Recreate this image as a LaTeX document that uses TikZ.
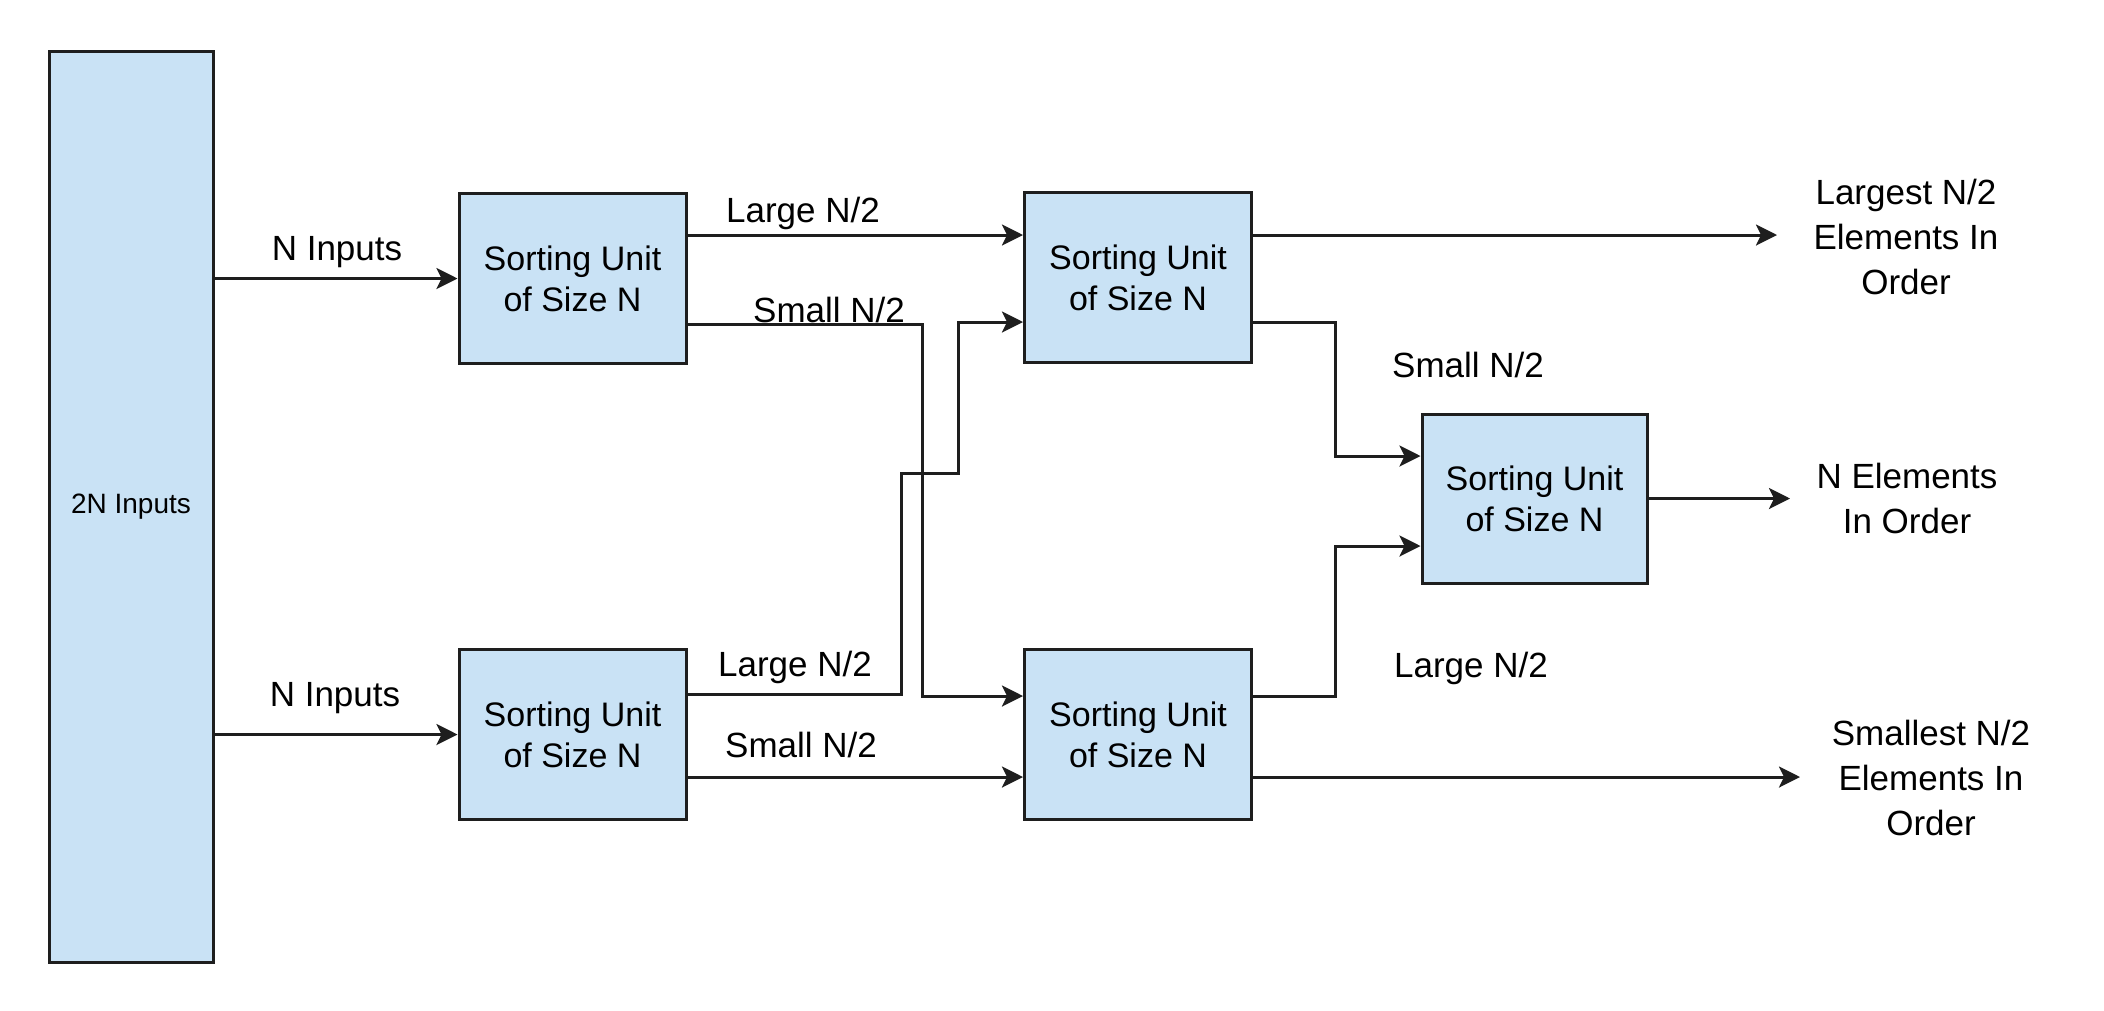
\documentclass[tikz,border=0pt]{standalone}
\usepackage{fontspec}
\setmainfont{Liberation Sans}
\usetikzlibrary{arrows.meta}
\definecolor{boxfill}{RGB}{201,226,245}
\definecolor{ink}{RGB}{30,30,30}
\begin{document}
\begin{tikzpicture}[x=1pt,y=-1pt,
  unit/.style={draw=ink, line width=3pt, fill=boxfill, minimum width=227pt, minimum height=170pt, inner sep=0pt, align=center, font=\fontsize{34}{41}\selectfont},
  lbl/.style={align=center, inner sep=0pt, font=\fontsize{35}{45}\selectfont},
  arr/.style={draw=ink, line width=3pt, -{Stealth[length=21pt,width=21pt,inset=5pt]}},
  wire/.style={draw=ink, line width=3pt}]
\useasboundingbox (0,0) rectangle (2104,1010);
% nodes
\node[unit, minimum width=164pt, minimum height=911pt, font=\fontsize{28}{34}\selectfont] (big) at (131,506.5) {2N Inputs};
\node[unit] (b1) at (572.5,278.5) {Sorting Unit\\of Size N};
\node[unit] (b2) at (572.5,734.5) {Sorting Unit\\of Size N};
\node[unit] (b3) at (1138,277.5) {Sorting Unit\\of Size N};
\node[unit] (b4) at (1138,734.5) {Sorting Unit\\of Size N};
\node[unit, minimum width=225pt, minimum height=169pt] (b5) at (1534.5,498.5) {Sorting Unit\\of Size N};
% bend and end coordinates
\coordinate (s1) at (922,696);
\coordinate (l1) at (901,473);
\coordinate (l2) at (958,322);
\coordinate (m1) at (1335,456);
\coordinate (m2) at (1335,546);
\coordinate (o1) at (1777,235);
\coordinate (o2) at (1790,498.5);
\coordinate (o3) at (1800,777);
% connectors
\draw[arr] (big.east |- b1.west) -- (b1.west);
\draw[arr] (big.east |- b2.west) -- (b2.west);
\draw[arr] ([yshift=43.5pt]b1.east) -- ([yshift=42.5pt]b3.west);
\draw[arr] ([yshift=-45.5pt]b1.east) -| (s1) -- ([yshift=38.5pt]b4.west);
\draw[arr] ([yshift=40.5pt]b2.east) -| (l1) -| (l2) -- ([yshift=-44.5pt]b3.west);
\draw[arr] ([yshift=-42.5pt]b2.east) -- ([yshift=-42.5pt]b4.west);
\draw[arr] ([yshift=42.5pt]b3.east) -- (o1);
\draw[arr] ([yshift=-44.5pt]b3.east) -| (m1) -- ([yshift=42.5pt]b5.west);
\draw[arr] ([yshift=38.5pt]b4.east) -| (m2) -- ([yshift=-47.5pt]b5.west);
\draw[arr] ([yshift=-42.5pt]b4.east) -- (o3);
\draw[arr] (b5.east) -- (o2);
% labels
\node[lbl] (t1) at (337,252) {N Inputs};
\node[lbl] (t2) at (335,698) {N Inputs};
\node[lbl] (t3) at (803,213) {Large N/2};
\node[lbl] (t4) at (829,310) {Small N/2};
\node[lbl] (t5) at (795,667) {Large N/2};
\node[lbl] (t6) at (801,745) {Small N/2};
\node[lbl] (t7) at (1468,365) {Small N/2};
\node[lbl] (t8) at (1471,668) {Large N/2};
\node[lbl] (t9) at (1906,237) {Largest N/2\\Elements In\\Order};
\node[lbl] (t10) at (1907,498) {N Elements\\In Order};
\node[lbl] (t11) at (1931,778) {Smallest N/2\\Elements In\\Order};
\end{tikzpicture}
\end{document}
